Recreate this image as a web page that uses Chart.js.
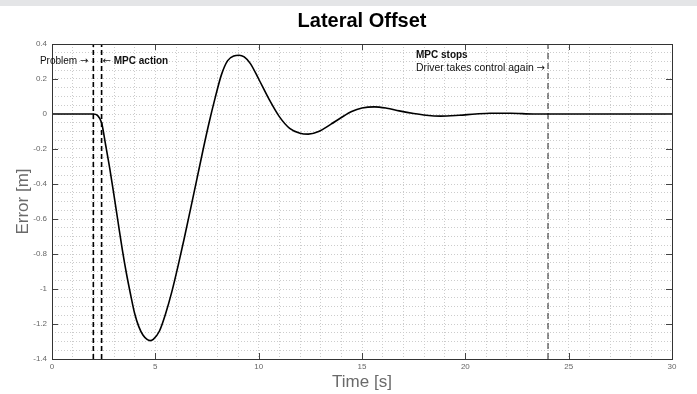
<!DOCTYPE html>
<html>
<head>
<meta charset="utf-8">
<script src="https://cdn.jsdelivr.net/npm/chart.js@4.4.0/dist/chart.umd.min.js"></script>
<style>
  html, body { margin: 0; padding: 0; background: #fff; }
</style>
</head>
<body>
<canvas id="chart" width="697" height="394"></canvas>
<script>
// Lateral offset error over time
const times = [0, 2.0, 2.2, 2.4, 2.6, 2.8, 3.0, 3.2, 3.4, 3.6,
  3.8, 4.0, 4.2, 4.4, 4.6, 4.75, 4.9, 5.2, 5.5, 5.8,
  6.1, 6.4, 6.7, 7.0, 7.3, 7.6, 7.9, 8.2, 8.5, 8.8,
  9.05, 9.3, 9.6, 10.0, 10.5, 11.0, 11.5, 12.0, 12.4, 12.9,
  13.5, 14.0, 14.5, 15.0, 15.6, 16.2, 16.8, 17.5, 18.1, 18.8,
  19.7, 20.5, 21.2, 22.2, 23.3, 24, 30];
const errors = [0, 0, -0.008, -0.05, -0.18, -0.315, -0.465, -0.62, -0.773, -0.91,
  -1.03, -1.14, -1.215, -1.263, -1.288, -1.295, -1.288, -1.24, -1.14, -1.015,
  -0.868, -0.71, -0.545, -0.378, -0.21, -0.05, 0.095, 0.225, 0.305, 0.332,
  0.336, 0.326, 0.288, 0.2, 0.085, -0.015, -0.082, -0.11, -0.115, -0.1,
  -0.058, -0.02, 0.014, 0.034, 0.041, 0.033, 0.018, 0.003, -0.007, -0.012,
  -0.007, 0, 0.004, 0.004, 0, 0, 0];

// event markers: problem, MPC action, MPC stops
const problemTime = 2.0;
const mpcActionTime = 2.4;
const mpcStopTime = 24;

const xMin = 0, xMax = 30;
const yMin = -1.4, yMax = 0.4;
const xMajorTicks = [0, 5, 10, 15, 20, 25, 30];
const yMajorTicks = [0.4, 0.2, 0, -0.2, -0.4, -0.6, -0.8, -1, -1.2, -1.4];

const FONT = "'Liberation Sans', Arial, sans-serif";
const ARROW_FONT = "10px 'DejaVu Sans', sans-serif";

const vline = (t) => [{ x: t, y: yMin }, { x: t, y: yMax }];

const isMajorY = v => yMajorTicks.some(m => Math.abs(m - v) < 1e-6);

// text followed by a right arrow, ending at xEnd
function labelRightArrow(c, text, font, xEnd, y) {
  c.textAlign = 'left';
  c.font = ARROW_FONT;
  const aw = c.measureText('\u2192').width;
  c.font = font;
  const tw = c.measureText(text + ' ').width;
  const x0 = xEnd - aw - tw;
  c.fillText(text + ' ', x0, y);
  c.font = ARROW_FONT;
  c.fillText('\u2192', x0 + tw, y);
}

// left arrow followed by text, starting at xStart
function labelLeftArrow(c, text, font, xStart, y) {
  c.textAlign = 'left';
  c.font = ARROW_FONT;
  const aw = c.measureText('\u2190').width;
  c.fillText('\u2190', xStart, y);
  c.font = font;
  c.fillText(' ' + text, xStart + aw, y);
}

// frame, inward ticks, titles and annotations
const decorations = {
  id: 'decorations',
  beforeDraw(chart) {
    const c = chart.ctx;
    c.save();
    c.fillStyle = '#fff';
    c.fillRect(0, 0, chart.width, chart.height);
    c.fillStyle = '#e4e5e7';
    c.fillRect(0, 0, chart.width, 6);
    c.restore();
  },
  afterDraw(chart) {
    const c = chart.ctx;
    const { left, right, top, bottom } = chart.chartArea;
    const xs = chart.scales.x, ys = chart.scales.y;
    c.save();
    c.strokeStyle = '#444';
    c.lineWidth = 1;
    c.beginPath();
    xMajorTicks.slice(1, -1).forEach(v => {
      const px = Math.round(xs.getPixelForValue(v)) + 0.5;
      c.moveTo(px, bottom); c.lineTo(px, bottom - 6);
      c.moveTo(px, top); c.lineTo(px, top + 6);
    });
    yMajorTicks.slice(1, -1).forEach(v => {
      const py = Math.round(ys.getPixelForValue(v)) + 0.5;
      c.moveTo(left, py); c.lineTo(left + 6, py);
      c.moveTo(right, py); c.lineTo(right - 6, py);
    });
    c.stroke();
    c.strokeStyle = '#333';
    c.strokeRect(Math.round(left) + 0.5, Math.round(top) + 0.5,
      Math.round(right - left), Math.round(bottom - top));

    // title
    c.fillStyle = '#000';
    c.textAlign = 'center';
    c.textBaseline = 'middle';
    c.font = 'bold 20px ' + FONT;
    c.fillText('Lateral Offset', (left + right) / 2, 21);

    // axis titles
    c.fillStyle = '#6a6a6a';
    c.font = '17px ' + FONT;
    c.fillText('Time [s]', (left + right) / 2, 382);
    c.save();
    c.translate(23, (top + bottom) / 2);
    c.rotate(-Math.PI / 2);
    c.fillText('Error [m]', 0, 0);
    c.restore();

    // annotations
    c.fillStyle = '#111';
    labelRightArrow(c, 'Problem', '10px ' + FONT,
      xs.getPixelForValue(problemTime) - 5, ys.getPixelForValue(0.3));
    labelRightArrow(c, 'Driver takes control again', '10.4px ' + FONT,
      xs.getPixelForValue(mpcStopTime) - 3, ys.getPixelForValue(0.26));
    labelLeftArrow(c, 'MPC action', 'bold 10px ' + FONT,
      xs.getPixelForValue(mpcActionTime) + 1, ys.getPixelForValue(0.3));
    c.font = 'bold 10px ' + FONT;
    c.fillText('MPC stops', 416, ys.getPixelForValue(0.335));
    c.restore();
  }
};

new Chart(document.getElementById('chart'), {
  type: 'line',
  data: {
    datasets: [
      {
        data: times.map((t, i) => ({ x: t, y: errors[i] })),
        borderColor: '#000',
        borderWidth: 1.6,
        pointRadius: 0,
        cubicInterpolationMode: 'monotone',
        fill: false
      },
      {
        data: vline(problemTime),
        borderColor: '#000', borderWidth: 1.6, borderDash: [5, 3],
        pointRadius: 0, fill: false
      },
      {
        data: vline(mpcActionTime),
        borderColor: '#000', borderWidth: 1.6, borderDash: [5, 3],
        pointRadius: 0, fill: false
      },
      {
        data: vline(mpcStopTime),
        borderColor: '#222', borderWidth: 1, borderDash: [6, 4],
        pointRadius: 0, fill: false
      }
    ]
  },
  options: {
    responsive: false,
    animation: false,
    layout: { padding: { top: 44, right: 25, left: 0, bottom: 0 } },
    plugins: { legend: { display: false }, tooltip: { enabled: false } },
    scales: {
      x: {
        type: 'linear', min: xMin, max: xMax,
        ticks: {
          stepSize: 1, autoSkip: false, maxTicksLimit: 100, maxRotation: 0, padding: 3,
          color: '#666', font: { family: FONT, size: 8 },
          callback: v => (xMajorTicks.includes(v) ? String(v) : '')
        },
        grid: { color: '#cccccc', lineWidth: 1, drawTicks: false },
        border: { display: false, dash: [1, 2] },
        afterFit: s => { s.height = 35; }
      },
      y: {
        type: 'linear', min: yMin, max: yMax,
        ticks: {
          stepSize: 0.05, autoSkip: false, maxTicksLimit: 100, padding: 5,
          color: '#666', font: { family: FONT, size: 8 },
          callback: v => (isMajorY(v) ? String(+v.toFixed(1)) : '')
        },
        grid: { color: '#cccccc', lineWidth: 1, drawTicks: false },
        border: { display: false, dash: [1, 2] },
        afterFit: s => { s.width = 52; }
      }
    }
  },
  plugins: [decorations]
});
</script>
</body>
</html>
